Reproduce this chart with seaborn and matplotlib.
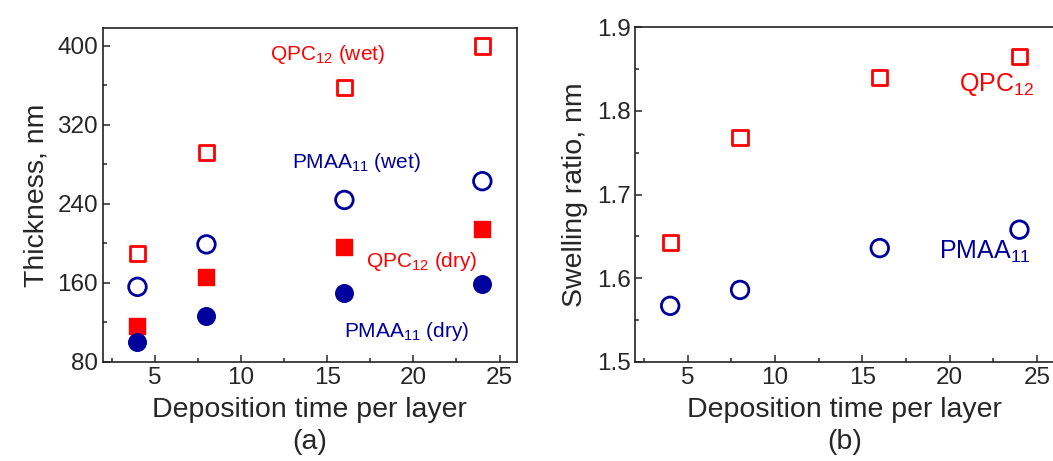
import numpy as np
import pandas as pd
import matplotlib
matplotlib.use("Agg")
import matplotlib.pyplot as plt
from matplotlib.ticker import MultipleLocator
import seaborn as sns

# data
time = [4, 8, 16, 24]
qpc_wet = [190, 292, 358, 400]
qpc_dry = [116, 166, 196, 215]
pmaa_wet = [156, 199, 244, 263]
pmaa_dry = [100, 126, 150, 159]
swell_qpc = [1.643, 1.768, 1.840, 1.865]
swell_pmaa = [1.567, 1.586, 1.636, 1.658]

RED = "#ff0000"
BLUE = "#00009c"

sns.set_style("ticks")
plt.rcParams["font.family"] = ["Liberation Sans", "DejaVu Sans"]
plt.rcParams["mathtext.default"] = "regular"
plt.rcParams["xtick.direction"] = "in"
plt.rcParams["ytick.direction"] = "in"

fig = plt.figure(figsize=(10.53, 4.61), dpi=100)
ax1 = fig.add_axes([0.0978, 0.215, 0.393, 0.724])
ax2 = fig.add_axes([0.6033, 0.215, 0.398, 0.726])

thick = pd.DataFrame({"time": time, "qpc_wet": qpc_wet, "qpc_dry": qpc_dry,
                      "pmaa_wet": pmaa_wet, "pmaa_dry": pmaa_dry})
swell = pd.DataFrame({"time": time, "qpc": swell_qpc, "pmaa": swell_pmaa})

# panel (a)
sns.scatterplot(data=thick, x="time", y="qpc_wet", marker="s", s=120,
                facecolor="none", edgecolor=RED, linewidth=2, ax=ax1)
sns.scatterplot(data=thick, x="time", y="qpc_dry", marker="s", s=120,
                color=RED, edgecolor=RED, linewidth=1, ax=ax1)
sns.scatterplot(data=thick, x="time", y="pmaa_wet", marker="o", s=160,
                facecolor="none", edgecolor=BLUE, linewidth=2, ax=ax1)
sns.scatterplot(data=thick, x="time", y="pmaa_dry", marker="o", s=160,
                color=BLUE, edgecolor=BLUE, linewidth=1, ax=ax1)

ax1.set_xlim(2, 26)
ax1.set_ylim(80, 418)
ax1.yaxis.set_major_locator(MultipleLocator(80))
ax1.yaxis.set_minor_locator(MultipleLocator(40))
ax1.set_ylabel("Thickness, nm", fontsize=20.5, labelpad=6)
ax1.set_xlabel("Deposition time per layer\n(a)", fontsize=20.5, linespacing=1.3, labelpad=6)

ax1.text(11.7, 391, "QPC$_{12}$ (wet)", color=RED, fontsize=15, va="center")
ax1.text(12.95, 281.5, "PMAA$_{11}$ (wet)", color=BLUE, fontsize=15, va="center")
ax1.text(17.25, 181.6, "QPC$_{12}$ (dry)", color=RED, fontsize=15, va="center")
ax1.text(15.95, 110.7, "PMAA$_{11}$ (dry)", color=BLUE, fontsize=15, va="center")

# panel (b)
sns.scatterplot(data=swell, x="time", y="qpc", marker="s", s=120,
                facecolor="none", edgecolor=RED, linewidth=2, ax=ax2)
sns.scatterplot(data=swell, x="time", y="pmaa", marker="o", s=160,
                facecolor="none", edgecolor=BLUE, linewidth=2, ax=ax2)

ax2.set_xlim(2, 26)
ax2.set_ylim(1.5, 1.9)
ax2.yaxis.set_major_locator(MultipleLocator(0.1))
ax2.yaxis.set_minor_locator(MultipleLocator(0.05))
ax2.set_ylabel("Swelling ratio, nm", fontsize=20.5, labelpad=6)
ax2.set_xlabel("Deposition time per layer\n(b)", fontsize=20.5, linespacing=1.3, labelpad=6)

ax2.text(20.56, 1.831, "QPC$_{12}$", color=RED, fontsize=18, va="center")
ax2.text(19.41, 1.631, "PMAA$_{11}$", color=BLUE, fontsize=18, va="center")

for ax in (ax1, ax2):
    ax.xaxis.set_major_locator(MultipleLocator(5))
    ax.xaxis.set_minor_locator(MultipleLocator(2.5))
    ax.tick_params(which="major", length=5, width=1.1, labelsize=17.5)
    ax.tick_params(which="minor", length=3, width=1.1)
    ax.tick_params(top=False, right=False, which="both")
    for sp in ax.spines.values():
        sp.set_visible(True)
        sp.set_linewidth(1.2)
        sp.set_color("#222222")

fig.savefig("out.png", dpi=100)
